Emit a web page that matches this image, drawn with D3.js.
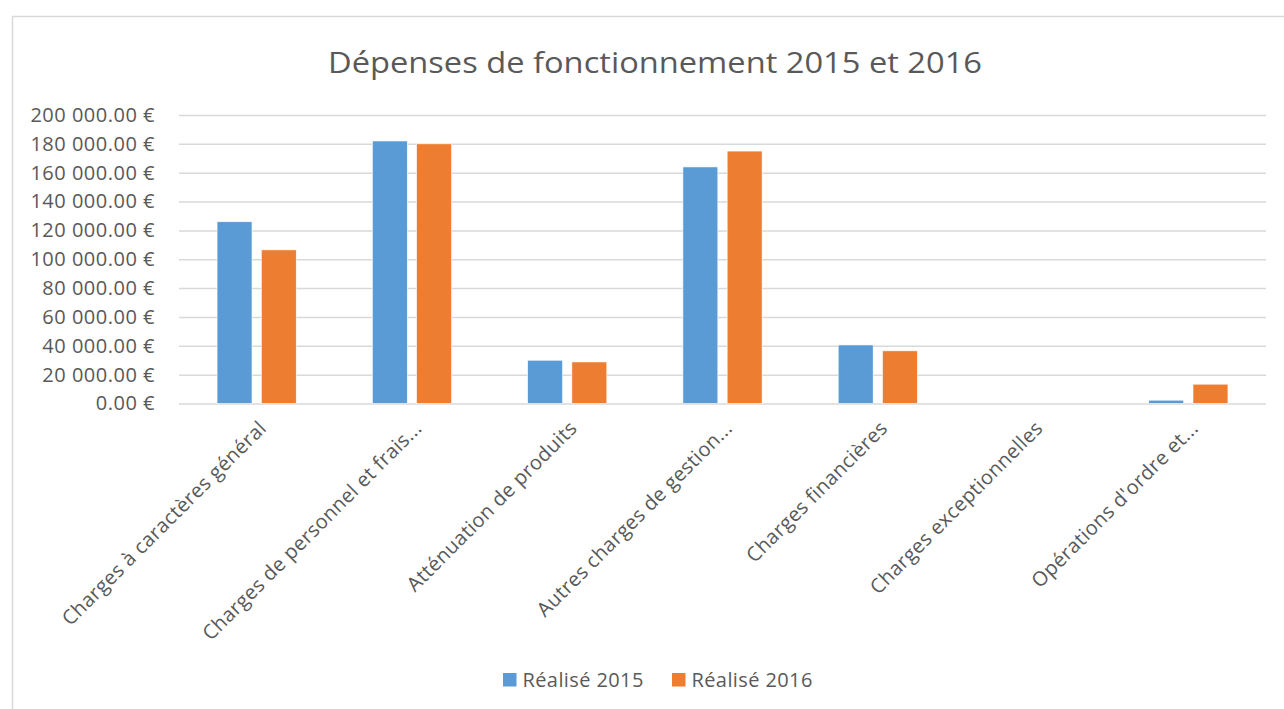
<!DOCTYPE html>
<html>
<head>
<meta charset="utf-8">
<script src="https://cdn.jsdelivr.net/npm/d3@7"></script>
<style>
  body { margin: 0; background: #fff; }
  text { font-family: "Open Sans", "DejaVu Sans", sans-serif; fill: #595959; }
</style>
</head>
<body>
<div id="chart"></div>
<script>
// Data
const categories = [
  "Charges à caractères général",
  "Charges de personnel et frais...",
  "Atténuation de produits",
  "Autres charges de gestion...",
  "Charges financières",
  "Charges exceptionnelles",
  "Opérations d'ordre et..."
]
const series = ["Réalisé 2015", "Réalisé 2016"]
const values2015 = [126000, 182000, 30000, 164000, 40600, 0, 2300]
const values2016 = [106500, 180000, 28800, 175000, 36500, 0, 13400]
const yTicks = [0, 20000, 40000, 60000, 80000, 100000, 120000, 140000, 160000, 180000, 200000]
const colors = ["#5B9BD5", "#ED7D31"]

const width = 1284
const height = 709
const plot = { left: 179, right: 1266, top: 115, bottom: 403.5 }

const svg = d3.select("#chart")
  .append("svg")
  .attr("width", width)
  .attr("height", height)

// Chart frame
svg.append("rect")
  .attr("x", 12.5)
  .attr("y", 16.5)
  .attr("width", width + 20)
  .attr("height", height + 20)
  .attr("fill", "#fff")
  .attr("stroke", "#d9d9d9")
  .attr("stroke-width", 1.5)

// Title (the reference text is a little stretched)
svg.append("text")
  .attr("x", 655)
  .attr("y", 73)
  .attr("text-anchor", "middle")
  .attr("textLength", 654)
  .attr("lengthAdjust", "spacingAndGlyphs")
  .style("font-size", "29px")
  .text("Dépenses de fonctionnement 2015 et 2016")

const x0 = d3.scaleBand()
  .domain(categories)
  .range([plot.left, plot.right])

const x1 = d3.scaleBand()
  .domain(series)
  .range([0, x0.bandwidth()])
  .paddingInner(0.21)
  .paddingOuter(0.86)

const y = d3.scaleLinear()
  .domain([0, 200000])
  .range([plot.bottom, plot.top])

const locale = d3.formatLocale({
  decimal: ".",
  thousands: " ",
  grouping: [3],
  currency: ["", " €"]
})
const fmt = locale.format("$,.2f")

// Gridlines and y labels
const yAxis = d3.axisLeft(y)
  .tickValues(yTicks)
  .tickSize(-(plot.right - plot.left))
  .tickPadding(24)
  .tickFormat(fmt)

const gy = svg.append("g")
  .attr("transform", `translate(${plot.left},0)`)
  .call(yAxis)
gy.select(".domain").remove()
gy.selectAll(".tick line")
  .attr("stroke", "#d9d9d9")
  .attr("stroke-width", 1.5)
gy.selectAll(".tick text")
  .style("font-size", "20px")
  .style("letter-spacing", "0.5px")
  .style("font-family", "'Open Sans', sans-serif")
  .attr("fill", "#595959")

// Bars
const rows = categories.map((c, i) => ({ cat: c, vals: [values2015[i], values2016[i]] }))

const groups = svg.selectAll(".grp")
  .data(rows)
  .enter()
  .append("g")
  .attr("class", "grp")
  .attr("transform", d => `translate(${x0(d.cat)},0)`)

groups.selectAll("rect")
  .data(d => d.vals.map((v, j) => ({ s: series[j], v, j })))
  .enter()
  .append("rect")
  .attr("x", d => x1(d.s))
  .attr("width", x1.bandwidth())
  .attr("y", d => y(d.v))
  .attr("height", d => y(0) - y(d.v))
  .attr("fill", d => colors[d.j])
  .attr("stroke", "#fff")
  .attr("stroke-width", 0.6)

// Category labels, rotated
svg.selectAll(".cat")
  .data(categories)
  .enter()
  .append("text")
  .attr("class", "cat")
  .attr("text-anchor", "end")
  .style("font-size", "20px")
  .style("letter-spacing", "0.35px")
  .attr("transform", d => `translate(${x0(d) + x0.bandwidth() / 2 + 11},${plot.bottom + 26}) rotate(-45)`)
  .text(d => d)

// Legend
const legend = svg.append("g")
const legendX = [503, 672]
series.forEach((s, i) => {
  legend.append("rect")
    .attr("x", legendX[i])
    .attr("y", 673)
    .attr("width", 13.5)
    .attr("height", 13.5)
    .attr("fill", colors[i])
  legend.append("text")
    .attr("x", legendX[i] + 19.5)
    .attr("y", 687)
    .style("font-size", "20px")
    .style("letter-spacing", "0.4px")
    .text(s)
})
</script>
</body>
</html>
